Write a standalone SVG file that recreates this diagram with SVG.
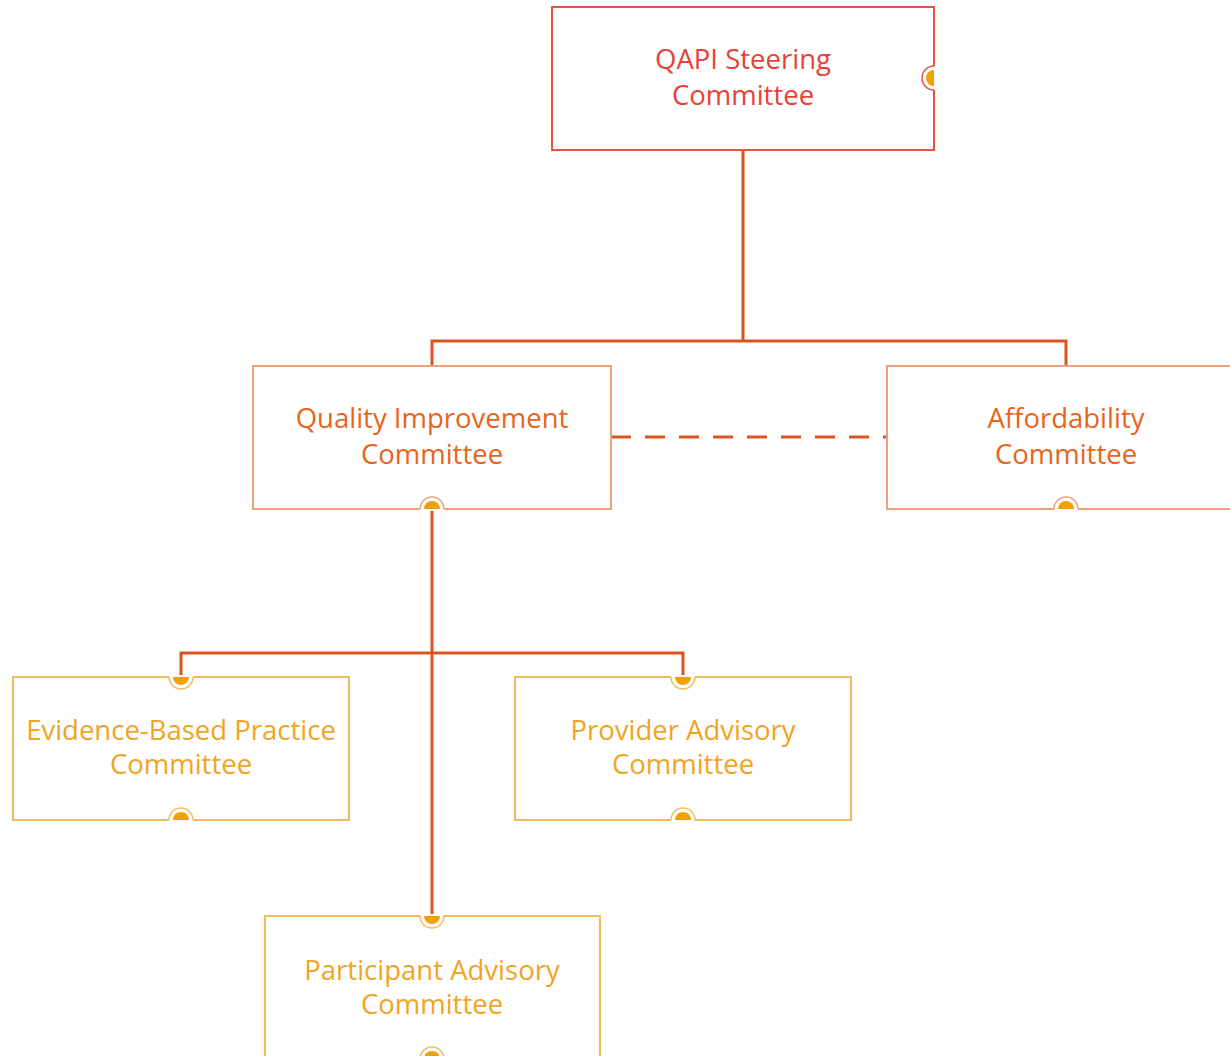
<svg xmlns="http://www.w3.org/2000/svg" width="1230" height="1056" viewBox="0 0 1230 1056">
<style>
.box{fill:#fff;stroke-width:2}
.l1{stroke:#e8503f}
.l2{stroke:#eda07c}
.l3{stroke:#f0bc5e}
.t{font-family:"Open Sans","Noto Sans",sans-serif;font-size:27.5px;text-anchor:middle}
.t1{fill:#e8413a}
.t2{fill:#e8641c}
.t3{fill:#f0a424}
.conn{fill:none;stroke:#d9541e;stroke-width:3}
.dot{fill:#f0a000}
.gap{stroke:#fff;stroke-width:4}
.ring{fill:#fff;stroke-width:1.5}
</style>
<g id="connectors">
<path class="conn" d="M743 150 V341 M432 366 V341 H1066 V366"/>
<path class="conn" d="M611 437 H887" stroke-dasharray="20,14"/>
<path class="conn" d="M432 509 V916 M181 677 V653 H683 V677"/>
</g>
<g id="qapi">
<rect class="box l1" x="552" y="7" width="382" height="143"/>
<line class="gap" x1="934" y1="66" x2="934" y2="90"/>
<path class="ring l1" d="M934 66 A12 12 0 0 0 934 90"/>
<path class="dot" d="M934 70 A8 8 0 0 0 934 86 Z"/>
<text class="t t1" x="743" y="69">QAPI Steering</text>
<text class="t t1" x="743" y="105">Committee</text>
</g>
<g id="qi">
<rect class="box l2" x="253" y="366" width="358" height="143"/>
<line class="gap" x1="420" y1="509" x2="444" y2="509"/>
<path class="ring l2" d="M420 509 A12 12 0 0 1 444 509"/>
<path class="dot" d="M424 509 A8 8 0 0 1 440 509 Z"/>
<text class="t t2" x="432" y="428">Quality Improvement</text>
<text class="t t2" x="432" y="464">Committee</text>
</g>
<g id="afford">
<rect class="box l2" x="887" y="366" width="358" height="143"/>
<line class="gap" x1="1054" y1="509" x2="1078" y2="509"/>
<path class="ring l2" d="M1054 509 A12 12 0 0 1 1078 509"/>
<path class="dot" d="M1058 509 A8 8 0 0 1 1074 509 Z"/>
<text class="t t2" x="1066" y="428">Affordability</text>
<text class="t t2" x="1066" y="464">Committee</text>
</g>
<g id="ebp">
<rect class="box l3" x="13" y="677" width="336" height="143"/>
<line class="gap" x1="169" y1="677" x2="193" y2="677"/>
<path class="ring l3" d="M169 677 A12 12 0 0 0 193 677"/>
<path class="dot" d="M173 677 A8 8 0 0 0 189 677 Z"/>
<line class="gap" x1="169" y1="820" x2="193" y2="820"/>
<path class="ring l3" d="M169 820 A12 12 0 0 1 193 820"/>
<path class="dot" d="M173 820 A8 8 0 0 1 189 820 Z"/>
<text class="t t3" x="181" y="740">Evidence-Based Practice</text>
<text class="t t3" x="181" y="774">Committee</text>
</g>
<g id="provider">
<rect class="box l3" x="515" y="677" width="336" height="143"/>
<line class="gap" x1="671" y1="677" x2="695" y2="677"/>
<path class="ring l3" d="M671 677 A12 12 0 0 0 695 677"/>
<path class="dot" d="M675 677 A8 8 0 0 0 691 677 Z"/>
<line class="gap" x1="671" y1="820" x2="695" y2="820"/>
<path class="ring l3" d="M671 820 A12 12 0 0 1 695 820"/>
<path class="dot" d="M675 820 A8 8 0 0 1 691 820 Z"/>
<text class="t t3" x="683" y="740">Provider Advisory</text>
<text class="t t3" x="683" y="774">Committee</text>
</g>
<g id="participant">
<rect class="box l3" x="265" y="916" width="335" height="143"/>
<line class="gap" x1="420" y1="916" x2="444" y2="916"/>
<path class="ring l3" d="M420 916 A12 12 0 0 0 444 916"/>
<path class="dot" d="M424 916 A8 8 0 0 0 440 916 Z"/>
<line class="gap" x1="420" y1="1059" x2="444" y2="1059"/>
<path class="ring l3" d="M420 1059 A12 12 0 0 1 444 1059"/>
<path class="dot" d="M424 1059 A8 8 0 0 1 440 1059 Z"/>
<text class="t t3" x="432" y="980">Participant Advisory</text>
<text class="t t3" x="432" y="1014">Committee</text>
</g>
</svg>
